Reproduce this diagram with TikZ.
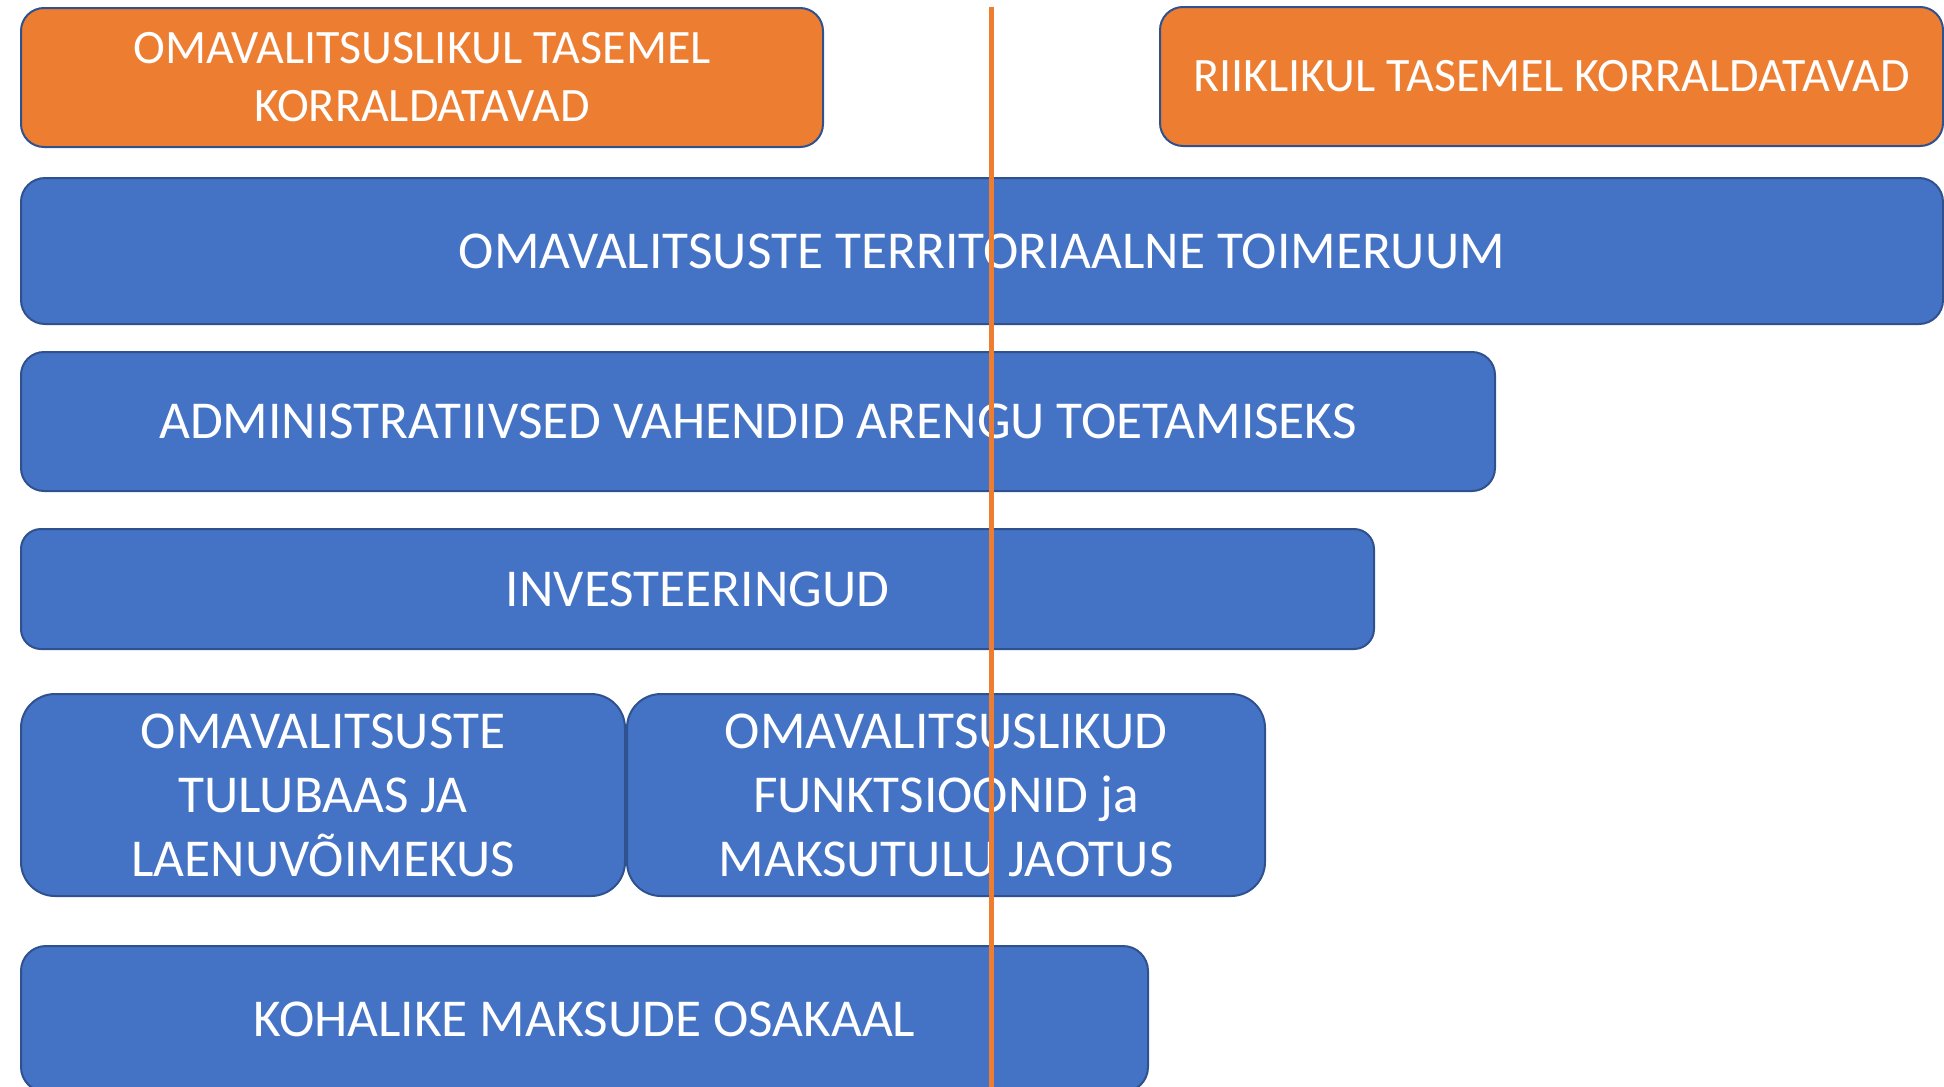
\documentclass[tikz,border=0pt]{standalone}
\usepackage{fontspec}
\setmainfont{Carlito}
\definecolor{boxblue}{HTML}{4472C4}
\definecolor{boxorange}{HTML}{ED7D31}
\definecolor{boxborder}{HTML}{2F528F}
\tikzset{
  panel/.style={draw=boxborder, line width=2pt, text=white, inner sep=0pt, align=center, anchor=north west},
  bluepanel/.style={panel, fill=boxblue},
  orangepanel/.style={panel, fill=boxorange},
  divider/.style={draw=boxorange, line width=5pt}
}
\begin{document}
\begin{tikzpicture}[x=1pt,y=1pt]
\useasboundingbox (0,0) rectangle (1944,-1087);
% top orange boxes
\node[orangepanel, rounded corners=23pt, minimum width=802pt, minimum height=139pt,
  font=\fontsize{48}{58}\selectfont] (loc) at (20,-7)
  {OMAVALITSUSLIKUL TASEMEL\\KORRALDATAVAD};
\node[orangepanel, rounded corners=23pt, minimum width=783pt, minimum height=139pt,
  font=\fontsize{48}{58}\selectfont] (nat) at (1159,-6)
  {RIIKLIKUL TASEMEL KORRALDATAVAD};
% blue boxes
\node[bluepanel, rounded corners=24pt, minimum width=1922pt, minimum height=146pt,
  font=\fontsize{53.3}{64}\selectfont] (terr) at (20,-177)
  {OMAVALITSUSTE TERRITORIAALNE TOIMERUUM};
\node[bluepanel, rounded corners=23pt, minimum width=1474pt, minimum height=139pt,
  font=\fontsize{53.3}{64}\selectfont] (adm) at (20,-351)
  {ADMINISTRATIIVSED VAHENDID ARENGU TOETAMISEKS};
\node[bluepanel, rounded corners=20pt, minimum width=1353pt, minimum height=120pt,
  font=\fontsize{53.3}{64}\selectfont] (inv) at (20,-528)
  {INVESTEERINGUD};
\node[bluepanel, rounded corners=34pt, minimum width=604pt, minimum height=202pt,
  font=\fontsize{53.3}{64}\selectfont] (tulu) at (20,-693)
  {OMAVALITSUSTE\\TULUBAAS JA\\LAENUVÕIMEKUS};
\node[bluepanel, rounded corners=34pt, minimum width=638pt, minimum height=202pt,
  font=\fontsize{53.3}{64}\selectfont] (funk) at (626,-693)
  {OMAVALITSUSLIKUD\\FUNKTSIOONID ja\\MAKSUTULU JAOTUS};
\node[bluepanel, rounded corners=25pt, minimum width=1127pt, minimum height=146pt,
  font=\fontsize{53.3}{64}\selectfont] (koh) at (20,-945)
  {KOHALIKE MAKSUDE OSAKAAL};
% divider line
\coordinate (ltop) at (991,-7);
\coordinate (lbot) at (991,-1095);
\draw[divider] (ltop) -- (lbot);
\end{tikzpicture}
\end{document}
